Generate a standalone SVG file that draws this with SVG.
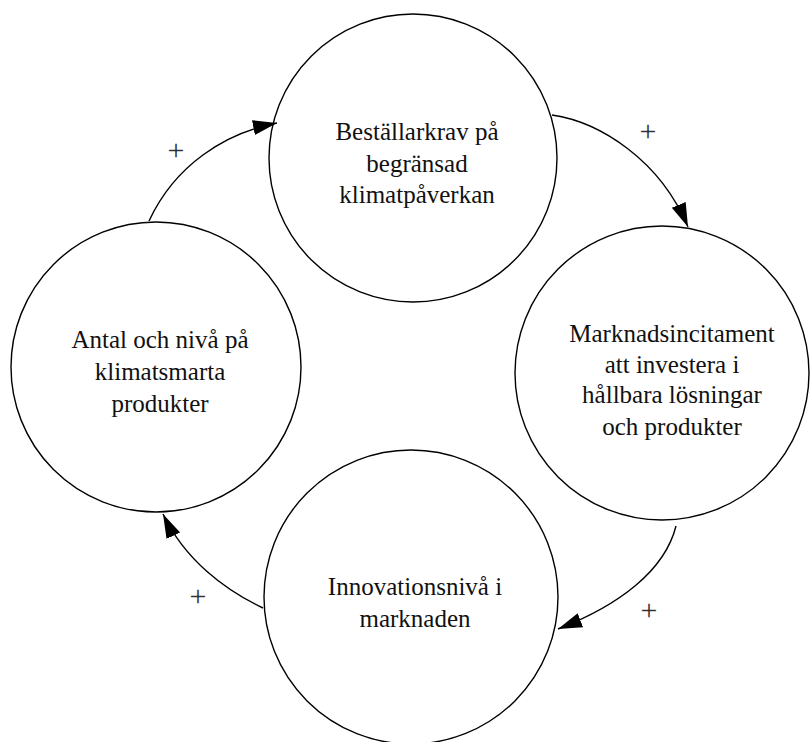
<svg xmlns="http://www.w3.org/2000/svg" width="810" height="742" viewBox="0 0 810 742">
<style>
.node{fill:#fff;stroke:#000;stroke-width:1.4}
.lbl{font-family:"Liberation Serif","Times New Roman",serif;font-size:25px;fill:#111;text-anchor:middle}
.edge{fill:none;stroke:#000;stroke-width:1.4}
.plus{font-family:"Liberation Serif","Times New Roman",serif;font-size:30px;fill:#333;text-anchor:middle}
</style>
<defs>
<marker id="arr" markerUnits="userSpaceOnUse" markerWidth="26" markerHeight="16" refX="24" refY="7.5" orient="auto">
<path d="M0,0 L24,7.5 L0,15 z" fill="#000"/>
</marker>
</defs>
<rect width="810" height="742" fill="#fff"/>
<g id="n1">
<circle class="node" cx="413" cy="158" r="144"/>
<text class="lbl" x="417" y="140">Beställarkrav på</text>
<text class="lbl" x="417" y="172">begränsad</text>
<text class="lbl" x="417" y="203">klimatpåverkan</text>
</g>
<g id="n2">
<circle class="node" cx="662" cy="373" r="147"/>
<text class="lbl" x="672" y="342">Marknadsincitament</text>
<text class="lbl" x="672" y="373">att investera i</text>
<text class="lbl" x="672" y="403">hållbara lösningar</text>
<text class="lbl" x="672" y="435">och produkter</text>
</g>
<g id="n3">
<circle class="node" cx="411" cy="597" r="147"/>
<text class="lbl" x="415" y="595">Innovationsnivå i</text>
<text class="lbl" x="415" y="627">marknaden</text>
</g>
<g id="n4">
<circle class="node" cx="156" cy="367" r="145"/>
<text class="lbl" x="160" y="348">Antal och nivå på</text>
<text class="lbl" x="160" y="380">klimatsmarta</text>
<text class="lbl" x="160" y="412">produkter</text>
</g>
<g id="edges">
<path class="edge" d="M552,115 C600,122 660,160 688,227" marker-end="url(#arr)"/>
<path class="edge" d="M676,526 C665,570 620,605 558,629" marker-end="url(#arr)"/>
<path class="edge" d="M263,608 C225,590 185,560 163,514" marker-end="url(#arr)"/>
<path class="edge" d="M149,221 C175,165 225,133 277,123" marker-end="url(#arr)"/>
<text class="plus" x="648" y="141">+</text>
<text class="plus" x="649" y="620">+</text>
<text class="plus" x="198" y="606">+</text>
<text class="plus" x="176" y="160">+</text>
</g>
</svg>
